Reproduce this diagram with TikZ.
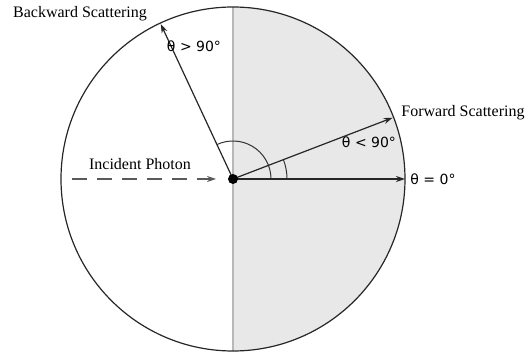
\documentclass[tikz,border=0pt]{standalone}
\usepackage{fontspec}
\setmainfont{Liberation Serif}
\newfontfamily\thetafont{DejaVu Sans}
\usetikzlibrary{arrows.meta,calc}
\begin{document}
\begin{tikzpicture}[x=1pt,y=1pt,
  ray/.style={line width=1.2pt,draw=black!85,-{Stealth[length=9pt,width=6pt]}},
  captxt/.style={font=\fontsize{16}{16}\selectfont,inner sep=0pt},
  angtxt/.style={font=\thetafont\fontsize{14}{14}\selectfont,inner sep=0pt},
  arcline/.style={line width=1pt,draw=black!80}]
\useasboundingbox (0,0) rectangle (530,358);
\coordinate (o) at (233,179);
% shaded right half
\fill[black!9] (233,7) arc[start angle=-90,end angle=90,radius=172] -- cycle;
\draw[line width=2pt,black!28] (233,7) -- (233,351);
\draw[line width=1.2pt,black!85] (o) circle[radius=172];
% angle arcs
\draw[arcline] ([shift={(0:38)}]o) arc[start angle=0,end angle=115,radius=38];
\draw[arcline] ([shift={(0:54)}]o) arc[start angle=0,end angle=21,radius=54];
% rays
\coordinate (back) at ($(o)+(115:171)$);
\coordinate (fwd) at ($(o)+(21:171)$);
\coordinate (zero) at ($(o)+(0:172)$);
\coordinate (inc) at (72,179);
\coordinate (incend) at (216,179);
\draw[ray] (o) -- (back);
\draw[ray] (o) -- (fwd);
\draw[ray] (o) -- (zero);
\draw[line width=1.2pt,black!65,dash pattern=on 15pt off 10pt,-{Stealth[length=9pt,width=6pt]}] (inc) -- (incend);
\node[circle,fill=black,minimum size=10pt,inner sep=0pt] (dot) at (o) {};
% labels
\node[captxt] (lb) at (80,344) {Backward Scattering};
\node[captxt] (lf) at (463,245) {Forward Scattering};
\node[captxt] (li) at (140,194) {Incident Photon};
\node[angtxt] (a1) at (194,312) {θ > 90°};
\node[angtxt] (a2) at (369,216) {θ < 90°};
\node[angtxt] (a3) at (433,179) {θ = 0°};
\end{tikzpicture}
\end{document}
